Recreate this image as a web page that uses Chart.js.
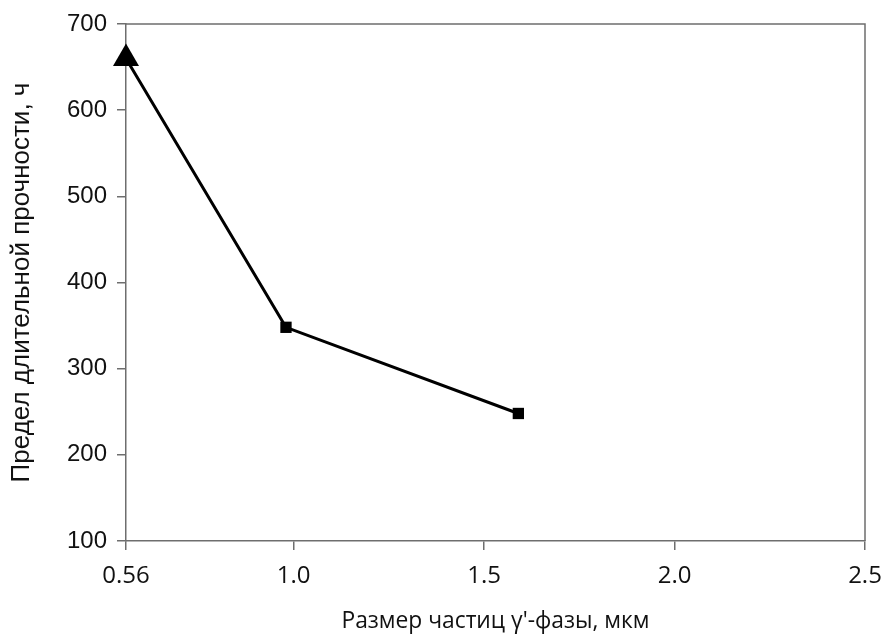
<!DOCTYPE html>
<html>
<head>
<meta charset="utf-8">
<script src="https://cdn.jsdelivr.net/npm/chart.js@4"></script>
<style>
  html, body { margin: 0; padding: 0; background: #fff; }
  #wrap { width: 886px; height: 635px; }
</style>
</head>
<body>
<div id="wrap"><canvas id="chart"></canvas></div>
<script>
// Data
const particleSize = [0.56, 0.98, 1.59];
const ruptureLife = [660, 348, 248];
const markerStyles = ['triangle', 'rect', 'rect'];
const markerSizes = [15, 8, 8];

// Axis ticks
const xTickValues = [0.56, 1.0, 1.5, 2.0, 2.5];
const xTickLabels = ['0.56', '1.0', '1.5', '2.0', '2.5'];
const yTickValues = [100, 200, 300, 400, 500, 600, 700];

const xTitle = "Размер частиц γ'-фазы, мкм";
const yTitle = 'Предел длительной прочности, ч';

const axisColor = '#6e6e6e';

// draws the top and right edges of the frame
const frame = {
  id: 'frame',
  beforeDatasetsDraw(chart) {
    const a = chart.chartArea;
    const ctx = chart.ctx;
    ctx.save();
    ctx.strokeStyle = axisColor;
    ctx.lineWidth = 1.5;
    ctx.beginPath();
    ctx.moveTo(a.left, a.top);
    ctx.lineTo(a.right, a.top);
    ctx.lineTo(a.right, a.bottom);
    ctx.stroke();
    ctx.restore();
  }
};

const ctx = document.getElementById('chart').getContext('2d');
new Chart(ctx, {
  type: 'line',
  data: {
    datasets: [{
      data: particleSize.map((x, i) => ({ x: x, y: ruptureLife[i] })),
      borderColor: '#000',
      backgroundColor: '#000',
      borderWidth: 3,
      pointStyle: markerStyles,
      pointRadius: markerSizes,
      pointBackgroundColor: '#000',
      pointBorderColor: '#000',
      pointBorderWidth: 0,
      tension: 0,
      clip: false
    }]
  },
  options: {
    responsive: true,
    maintainAspectRatio: false,
    animation: false,
    layout: { padding: { top: 24, right: 21, left: 0, bottom: 0 } },
    plugins: {
      legend: { display: false },
      tooltip: { enabled: false }
    },
    scales: {
      x: {
        type: 'linear',
        min: 0.56,
        max: 2.5,
        afterBuildTicks: (scale) => {
          scale.ticks = xTickValues.map(v => ({ value: v }));
        },
        afterFit: (scale) => {
          scale.height = 94;
          scale.paddingLeft = 0;
          scale.paddingRight = 0;
        },
        ticks: {
          autoSkip: false,
          maxRotation: 0,
          padding: 12,
          color: '#111',
          font: { family: 'Open Sans', size: 24 },
          callback: (value, index) => xTickLabels[index]
        },
        grid: { drawOnChartArea: false, tickLength: 9, color: axisColor, lineWidth: 1.5 },
        border: { color: axisColor, width: 1.5 },
        title: {
          display: true,
          text: xTitle,
          color: '#111',
          font: { family: 'Open Sans', size: 22.8 },
          padding: { top: 0, bottom: 0 }
        }
      },
      y: {
        min: 100,
        max: 700,
        afterBuildTicks: (scale) => {
          scale.ticks = yTickValues.map(v => ({ value: v }));
        },
        afterFit: (scale) => {
          scale.width = 126;
          scale.paddingTop = 0;
          scale.paddingBottom = 0;
        },
        ticks: {
          padding: 10,
          color: '#111',
          font: { family: 'Liberation Sans', size: 24 }
        },
        grid: { drawOnChartArea: false, tickLength: 9, color: axisColor, lineWidth: 1.5 },
        border: { color: axisColor, width: 1.5 },
        title: {
          display: true,
          text: yTitle,
          color: '#111',
          font: { family: 'Liberation Sans', size: 26 },
          padding: { top: 6, bottom: 0 }
        }
      }
    }
  },
  plugins: [frame]
});
</script>
</body>
</html>
